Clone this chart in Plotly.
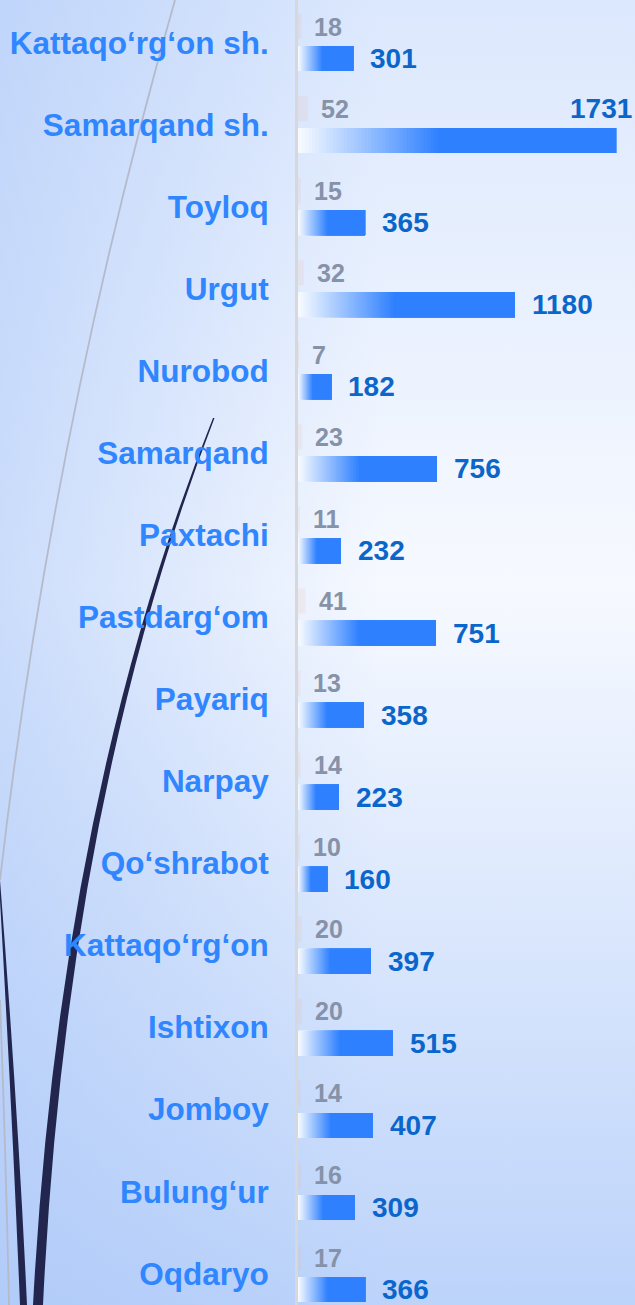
import base64
import plotly.graph_objects as go

# ---------------- data ----------------
categories = ["Kattaqo‘rg‘on sh.", "Samarqand sh.", "Toyloq", "Urgut", "Nurobod",
              "Samarqand", "Paxtachi", "Pastdarg‘om", "Payariq", "Narpay",
              "Qo‘shrabot", "Kattaqo‘rg‘on", "Ishtixon", "Jomboy", "Bulung‘ur", "Oqdaryo"]
small_vals = [18, 52, 15, 32, 7, 23, 11, 41, 13, 14, 10, 20, 20, 14, 16, 17]
large_vals = [301, 1731, 365, 1180, 182, 756, 232, 751, 358, 223, 160, 397, 515, 407, 309, 366]

# ---------------- geometry / style ----------------
W, H = 635, 1305
ML = 298
PLOT_W = W - ML
XMAX = 1834
pos = list(range(len(categories)))
BAR_W = 0.305
OFF_BIG = 0.195
OFF_SMALL = -0.195
BLUE = (46, 128, 255)
WHITE = (246, 250, 255)
GRAD_FRAC = 0.44
K = 40

fig = go.Figure()

# small series (faint bars with a golden edge at the base)
fig.add_trace(go.Bar(
    y=pos, x=small_vals, orientation="h",
    offset=OFF_SMALL - BAR_W / 2, width=BAR_W,
    marker=dict(color="rgba(240,180,150,0.14)", line=dict(width=0)),
    hoverinfo="skip", showlegend=False))

# large series: overlapping gradient steps (each runs to the bar end), then solid part
for k in range(K):
    t = k / K
    c = tuple(round(WHITE[j] + (BLUE[j] - WHITE[j]) * t) for j in range(3))
    fig.add_trace(go.Bar(
        y=pos,
        x=[v * (1 - GRAD_FRAC * k / K) for v in large_vals],
        base=[v * GRAD_FRAC * k / K for v in large_vals],
        orientation="h", offset=OFF_BIG - BAR_W / 2, width=BAR_W,
        marker=dict(color=f"rgb{c}", line=dict(width=0)),
        hoverinfo="skip", showlegend=False))
fig.add_trace(go.Bar(
    y=pos,
    x=[v * (1 - GRAD_FRAC) for v in large_vals],
    base=[v * GRAD_FRAC for v in large_vals],
    orientation="h", offset=OFF_BIG - BAR_W / 2, width=BAR_W,
    marker=dict(color=f"rgb{BLUE}", line=dict(width=0)),
    hoverinfo="skip", showlegend=False))

# ---------------- labels ----------------
ann = []
BIG_FS, SMALL_FS = 28, 25
for i, (s, v) in enumerate(zip(small_vals, large_vals)):
    ann.append(dict(x=s, y=i + OFF_SMALL, xref="x", yref="y", text=str(s),
                    showarrow=False, xanchor="left", yanchor="middle", xshift=11,
                    font=dict(family="Liberation Sans", size=SMALL_FS, color="#8692A8",
                              weight="bold")))
    est_w = len(str(v)) * 0.556 * BIG_FS
    if v / XMAX * PLOT_W + 15 + est_w > PLOT_W:
        ann.append(dict(x=1, y=i + OFF_SMALL, xref="paper", yref="y", text=str(v),
                        showarrow=False, xanchor="right", yanchor="middle", xshift=-1,
                        font=dict(family="Liberation Sans", size=BIG_FS, color="#0B66CC",
                                  weight="bold")))
    else:
        ann.append(dict(x=v, y=i + OFF_BIG, xref="x", yref="y", text=str(v),
                        showarrow=False, xanchor="left", yanchor="middle", xshift=15,
                        font=dict(family="Liberation Sans", size=BIG_FS, color="#0B66CC",
                                  weight="bold")))

# ---------------- background (gradient + decorative curves) ----------------
svg = f'''<svg xmlns="http://www.w3.org/2000/svg" width="{W}" height="{H}" viewBox="0 0 {W} {H}" preserveAspectRatio="none">
<defs>
<linearGradient id="v" x1="0" y1="0" x2="0" y2="1">
<stop offset="0" stop-color="#DCE8FD"/>
<stop offset="0.45" stop-color="#F6F9FF"/>
<stop offset="1" stop-color="#BCD3FA"/>
</linearGradient>
<linearGradient id="h" x1="0" y1="0" x2="1" y2="0">
<stop offset="0" stop-color="#A9C6F8" stop-opacity="0.55"/>
<stop offset="0.6" stop-color="#A9C6F8" stop-opacity="0"/>
</linearGradient>
</defs>
<rect width="{W}" height="{H}" fill="url(#v)"/>
<rect width="{W}" height="{H}" fill="url(#h)"/>
<path d="M175,0 Q52,430 0,880" stroke="#B5BACB" stroke-width="1.8" fill="none"/>
<path d="M0,1000 Q6,1160 9,1305" stroke="#B5BACB" stroke-width="1.8" fill="none"/>
<path d="M213,418 Q60,800 33,1305 L43,1305 Q67,800 214.5,418 Z" fill="#22264F"/>
<path d="M0,900 Q12,1110 20,1305 L27,1305 Q18,1110 0,880 Z" fill="#22264F"/>
</svg>'''
bg_src = "data:image/svg+xml;base64," + base64.b64encode(svg.encode("utf-8")).decode("ascii")

y_top = -0.518
y_bot = 15.383

fig.update_layout(
    width=W, height=H,
    margin=dict(l=ML, r=0, t=0, b=0, pad=0),
    barmode="overlay",
    paper_bgcolor="#EEF3FE",
    plot_bgcolor="rgba(0,0,0,0)",
    showlegend=False,
    annotations=ann,
    images=[dict(source=bg_src, xref="paper", yref="paper",
                 x=-ML / PLOT_W, y=1, sizex=W / PLOT_W, sizey=1,
                 xanchor="left", yanchor="top", sizing="stretch", layer="below")],
    xaxis=dict(range=[0, XMAX], visible=False, fixedrange=True),
    yaxis=dict(range=[y_bot, y_top], tickmode="array", tickvals=pos, ticktext=categories,
               showgrid=False, zeroline=False, showline=True, linecolor="#D7D8DC",
               linewidth=3, ticks="outside", ticklen=20, tickcolor="rgba(0,0,0,0)",
               tickfont=dict(family="Liberation Sans", size=31.5, color="#2F86FF",
                             weight="bold"),
               fixedrange=True),
)

fig.write_html("out.html", config={"displayModeBar": False},
               post_script="document.body.style.margin='0';document.body.style.padding='0';")
